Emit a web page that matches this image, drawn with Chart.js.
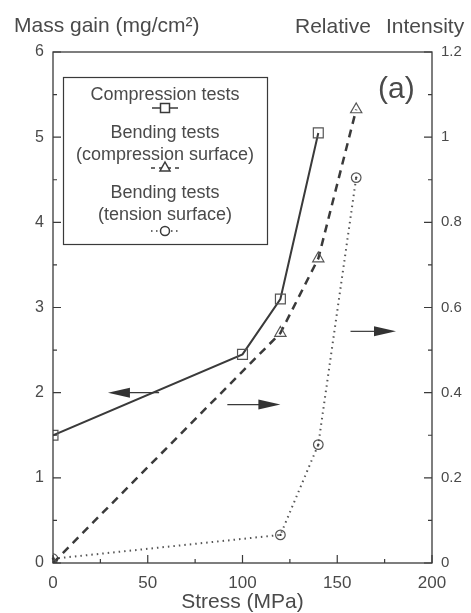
<!DOCTYPE html>
<html>
<head>
<meta charset="utf-8">
<script src="https://cdn.jsdelivr.net/npm/chart.js@4.4.1/dist/chart.umd.min.js"></script>
<style>
  html, body { margin: 0; padding: 0; background: #fff; }
  #wrap { width: 471px; height: 613px; position: relative; }
</style>
</head>
<body>
<div id="wrap"><canvas id="chart" width="471" height="613"></canvas></div>
<script>
const compStress = [0, 100, 120, 140];
const compMass = [1.5, 2.45, 3.1, 5.05];
const bendStress = [0, 120, 140, 160];
const bendCompIntensity = [0, 0.54, 0.715, 1.065];
const bendTensIntensity = [0.01, 0.066, 0.278, 0.905];
const xTicks = [0, 50, 100, 150, 200];
const leftTicks = [0, 1, 2, 3, 4, 5, 6];
const rightTicks = [0, 0.2, 0.4, 0.6, 0.8, 1, 1.2];

const ink = "#3a3a3a";
const textInk = "#4a4a4a";
const font = "'Liberation Sans', Arial, sans-serif";

function toPoints(xs, ys) {
    return xs.map((x, i) => ({ x: x, y: ys[i] }));
}

const framePlugin = {
    id: "frame",
    afterDraw(chart) {
        const ctx = chart.ctx;
        const a = chart.chartArea;
        const x = chart.scales.x, y = chart.scales.y, y1 = chart.scales.y1;
        ctx.save();
        ctx.strokeStyle = ink;
        ctx.lineWidth = 1.3;
        ctx.strokeRect(a.left, a.top, a.right - a.left, a.bottom - a.top);

        // tick marks pointing inward
        ctx.lineWidth = 1.2;
        ctx.beginPath();
        for (let v = 0; v <= 200; v += 25) {
            const px = x.getPixelForValue(v);
            const len = v % 50 === 0 ? 8 : 4;
            ctx.moveTo(px, a.bottom); ctx.lineTo(px, a.bottom - len);
        }
        for (let v = 0; v <= 6; v += 0.5) {
            const py = y.getPixelForValue(v);
            const len = v % 1 === 0 ? 8 : 4;
            ctx.moveTo(a.left, py); ctx.lineTo(a.left + len, py);
        }
        for (let i = 0; i <= 12; i++) {
            const py = y1.getPixelForValue(i / 10);
            const len = i % 2 === 0 ? 8 : 4;
            ctx.moveTo(a.right, py); ctx.lineTo(a.right - len, py);
        }
        ctx.stroke();

        // axis titles
        ctx.fillStyle = textInk;
        ctx.font = "21px " + font;
        ctx.textBaseline = "alphabetic";
        ctx.textAlign = "left";
        ctx.fillText("Mass gain (mg/cm\u00b2)", 14, 32);
        ctx.fillText("Relative", 295, 33);
        ctx.fillText("Intensity", 386, 33);
        ctx.textAlign = "center";
        ctx.fillText("Stress (MPa)", x.getPixelForValue(100), 608);

        // panel label
        ctx.font = "30px " + font;
        ctx.textAlign = "left";
        ctx.fillText("(a)", 378, 98);

        // arrows
        const arrow = (x0, x1, yv) => {
            const p0 = x.getPixelForValue(x0), p1 = x.getPixelForValue(x1);
            const py = y.getPixelForValue(yv);
            const dir = Math.sign(p1 - p0);
            ctx.strokeStyle = ink;
            ctx.lineWidth = 1.2;
            ctx.beginPath();
            ctx.moveTo(p0, py); ctx.lineTo(p1 - dir * 18, py);
            ctx.stroke();
            ctx.fillStyle = "#333";
            ctx.beginPath();
            ctx.moveTo(p1, py);
            ctx.lineTo(p1 - dir * 22, py - 5);
            ctx.lineTo(p1 - dir * 22, py + 5);
            ctx.closePath();
            ctx.fill();
        };
        arrow(56, 29, 2.0);
        arrow(92, 120, 1.86);
        arrow(157, 181, 2.72);

        // legend box
        ctx.strokeStyle = ink;
        ctx.lineWidth = 1.2;
        ctx.strokeRect(63.5, 77.5, 204, 167);
        ctx.fillStyle = textInk;
        ctx.font = "18px " + font;
        ctx.textAlign = "center";
        const cx = 165;
        ctx.fillText("Compression tests", cx, 100);
        ctx.fillText("Bending tests", cx, 138);
        ctx.fillText("(compression surface)", cx, 160);
        ctx.fillText("Bending tests", cx, 198);
        ctx.fillText("(tension surface)", cx, 220);

        ctx.lineWidth = 1.5;
        ctx.strokeStyle = ink;
        // solid + square
        ctx.setLineDash([]);
        ctx.beginPath(); ctx.moveTo(cx - 13, 108); ctx.lineTo(cx + 13, 108); ctx.stroke();
        ctx.fillStyle = "#fff";
        ctx.fillRect(cx - 4.5, 103.5, 9, 9); ctx.strokeRect(cx - 4.5, 103.5, 9, 9);
        // dashed + triangle
        ctx.setLineDash([4, 4]);
        ctx.beginPath(); ctx.moveTo(cx - 14, 168); ctx.lineTo(cx + 14, 168); ctx.stroke();
        ctx.setLineDash([]);
        ctx.beginPath(); ctx.moveTo(cx, 162); ctx.lineTo(cx + 5, 171); ctx.lineTo(cx - 5, 171); ctx.closePath();
        ctx.fill(); ctx.stroke();
        // dotted + circle
        ctx.setLineDash([1.5, 3.5]);
        ctx.beginPath(); ctx.moveTo(cx - 14, 231); ctx.lineTo(cx + 14, 231); ctx.stroke();
        ctx.setLineDash([]);
        ctx.beginPath(); ctx.arc(cx, 231, 4.5, 0, Math.PI * 2); ctx.fill(); ctx.stroke();
        ctx.restore();
    }
};

const dotCenterPlugin = {
    id: "dotCenter",
    afterDatasetsDraw(chart) {
        const meta = chart.getDatasetMeta(2);
        const ctx = chart.ctx;
        ctx.save();
        ctx.fillStyle = ink;
        meta.data.forEach(pt => {
            ctx.beginPath(); ctx.arc(pt.x, pt.y, 1.2, 0, Math.PI * 2); ctx.fill();
        });
        ctx.restore();
    }
};

new Chart(document.getElementById("chart"), {
    type: "line",
    data: {
        datasets: [
            {
                label: "Compression tests",
                data: toPoints(compStress, compMass),
                yAxisID: "y",
                borderColor: ink,
                borderWidth: 2,
                tension: 0,
                pointStyle: "rect",
                pointRadius: 7,
                pointBorderWidth: 1.2,
                pointBackgroundColor: "rgba(255,255,255,0)",
                pointBorderColor: "#555"
            },
            {
                label: "Bending tests (compression surface)",
                data: toPoints(bendStress, bendCompIntensity),
                yAxisID: "y1",
                borderColor: ink,
                borderWidth: 2.5,
                borderDash: [8, 6],
                tension: 0,
                pointStyle: "triangle",
                pointRadius: 6.5,
                pointBorderWidth: 1.2,
                pointBackgroundColor: "rgba(255,255,255,0)",
                pointBorderColor: "#555"
            },
            {
                label: "Bending tests (tension surface)",
                data: toPoints(bendStress, bendTensIntensity),
                yAxisID: "y1",
                borderColor: "#555",
                borderWidth: 2,
                borderDash: [1.5, 4],
                tension: 0,
                pointStyle: "circle",
                pointRadius: 4.8,
                pointBorderWidth: 1.2,
                pointBackgroundColor: "rgba(255,255,255,0)",
                pointBorderColor: "#555"
            }
        ]
    },
    options: {
        responsive: false,
        animation: false,
        layout: { padding: { top: 52, left: 0, right: 0, bottom: 0 } },
        plugins: { legend: { display: false }, tooltip: { enabled: false } },
        scales: {
            x: {
                type: "linear",
                min: 0, max: 200,
                afterFit: s => { s.height = 50; },
                afterBuildTicks: s => { s.ticks = xTicks.map(v => ({ value: v })); },
                grid: { display: false },
                border: { display: false },
                ticks: { color: textInk, font: { family: font, size: 17 }, padding: 2, maxRotation: 0 }
            },
            y: {
                position: "left",
                min: 0, max: 6,
                afterFit: s => { s.width = 53; },
                afterBuildTicks: s => { s.ticks = leftTicks.map(v => ({ value: v })); },
                grid: { display: false },
                border: { display: false },
                ticks: { color: textInk, font: { family: font, size: 16 }, padding: 1 }
            },
            y1: {
                position: "right",
                min: 0, max: 1.2,
                afterFit: s => { s.width = 39; },
                afterBuildTicks: s => { s.ticks = rightTicks.map(v => ({ value: v })); },
                grid: { display: false },
                border: { display: false },
                ticks: {
                    color: textInk, font: { family: font, size: 15 }, padding: 1,
                    callback: v => String(v)
                }
            }
        }
    },
    plugins: [framePlugin, dotCenterPlugin]
});
</script>
</body>
</html>
